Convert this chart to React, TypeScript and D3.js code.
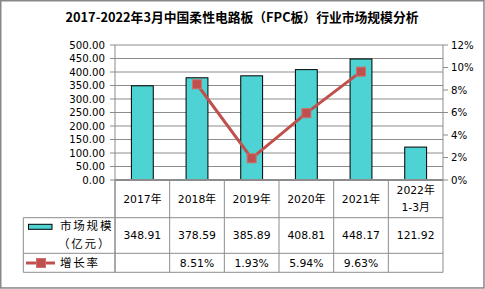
import React from "react";
import * as d3 from "d3";

const categories = ["2017年", "2018年", "2019年", "2020年", "2021年", "2022年\n1-3月"];
const marketSize = [348.91, 378.59, 385.89, 408.81, 448.17, 121.92];
const growthRate: (number | null)[] = [null, 8.51, 1.93, 5.94, 9.63, null];
const leftTicks = [0, 50, 100, 150, 200, 250, 300, 350, 400, 450, 500];
const rightTicks = [0, 2, 4, 6, 8, 10, 12];
const title = "2017-2022年3月中国柔性电路板（FPC板）行业市场规模分析";
const seriesNames = ["市场规模\n（亿元）", "增长率"];

const W = 485;
const H = 289;
const plotL = 115;
const plotR = 443;
const plotT = 45;
const plotB = 180;
const row1B = 217.7;
const row2B = 253.3;
const row3B = 272.3;
const tableL = 23.3;
const FONT = "'Noto Sans CJK SC', 'Noto Sans', sans-serif";
const NUMFONT = "'DejaVu Sans', 'Noto Sans CJK SC', sans-serif";
const NUMSIZE = 10.2;
const GRID = "#8c8c8c";
const BAR = "#4DD3D3";
const RED = "#C0504D";

export default function App() {
  const x = d3.scaleBand<string>().domain(categories).range([plotL, plotR]).paddingInner(0).paddingOuter(0);
  const yL = d3.scaleLinear().domain([0, 500]).range([plotB, plotT]);
  const yR = d3.scaleLinear().domain([0, 12]).range([plotB, plotT]);
  const bw = x.bandwidth() * 0.4;
  const line = d3
    .line<{ c: string; v: number | null }>()
    .defined((d) => d.v !== null)
    .x((d) => (x(d.c) as number) + x.bandwidth() / 2)
    .y((d) => yR(d.v as number));
  const pts = categories.map((c, i) => ({ c, v: growthRate[i] }));
  const colEdges = categories.map((c) => x(c) as number).concat([plotR]);

  return (
    <svg
      width={W}
      height={H}
      style={{ position: "absolute", left: 0, top: 0, background: "#fff" }}
      fontFamily={FONT}
    >
      <rect x={0.75} y={0.75} width={W - 1.8} height={H - 1.8} fill="#fff" stroke="#888" strokeWidth={1.5} />
      <text x={242} y={22} textAnchor="middle" fontSize={12.8} fontWeight="bold" fill="#000">
        {title}
      </text>
      {leftTicks.map((t) => (
        <line key={"g" + t} x1={plotL} x2={plotR} y1={yL(t)} y2={yL(t)} stroke={GRID} strokeWidth={1} />
      ))}
      {leftTicks.map((t) => (
        <g key={"lt" + t}>
          <line x1={plotL - 5} x2={plotL} y1={yL(t)} y2={yL(t)} stroke={GRID} />
          <text x={105} y={yL(t)} dy="0.36em" textAnchor="end" fontSize={NUMSIZE} fontFamily={NUMFONT} fill="#000">
            {d3.format(".2f")(t)}
          </text>
        </g>
      ))}
      {rightTicks.map((t) => (
        <g key={"rt" + t}>
          <line x1={plotR} x2={plotR + 5} y1={yR(t)} y2={yR(t)} stroke={GRID} />
          <text x={451} y={yR(t)} dy="0.36em" textAnchor="start" fontSize={NUMSIZE} fontFamily={NUMFONT} fill="#000">
            {t + "%"}
          </text>
        </g>
      ))}
      <line x1={plotL} x2={plotL} y1={plotT} y2={row3B} stroke={GRID} />
      <line x1={plotR} x2={plotR} y1={plotT} y2={plotB} stroke={GRID} />
      {categories.map((c, i) => (
        <rect
          key={"b" + c}
          x={(x(c) as number) + (x.bandwidth() - bw) / 2}
          y={yL(marketSize[i])}
          width={bw}
          height={plotB - yL(marketSize[i])}
          fill={BAR}
          stroke="#000"
          strokeWidth={1}
        />
      ))}
      <line x1={plotL} x2={plotR} y1={plotB} y2={plotB} stroke={GRID} strokeWidth={2} />
      <path d={line(pts) || ""} fill="none" stroke={RED} strokeWidth={3} />
      {pts
        .filter((p) => p.v !== null)
        .map((p) => (
          <rect
            key={"m" + p.c}
            x={(x(p.c) as number) + x.bandwidth() / 2 - 4.5}
            y={yR(p.v as number) - 4.5}
            width={9}
            height={9}
            fill={RED}
            stroke="#cf6e6b"
            strokeWidth={1}
          />
        ))}
      <g stroke={GRID} strokeWidth={1} fill="none">
        <line x1={tableL} x2={plotR} y1={row1B} y2={row1B} />
        <line x1={tableL} x2={plotR} y1={row2B} y2={row2B} />
        <line x1={tableL} x2={plotR} y1={row3B} y2={row3B} />
        <line x1={tableL} x2={tableL} y1={row1B} y2={row3B} />
        {colEdges.map((e, i) => (
          <line key={"c" + i} x1={e} x2={e} y1={plotB} y2={row3B} />
        ))}
      </g>
      {categories.map((c, i) => {
        const cx = (x(c) as number) + x.bandwidth() / 2;
        const lines = c.split("\n");
        return (
          <g key={"t" + c} fontSize={NUMSIZE + 0.6} fontFamily={NUMFONT} fill="#000" textAnchor="middle">
            {lines.length === 1 ? (
              <text x={cx} y={199} dy="0.36em">
                {c}
              </text>
            ) : (
              lines.map((l, j) => (
                <text key={j} x={cx} y={190.5 + j * 16.5} dy="0.36em">
                  {l}
                </text>
              ))
            )}
            <text x={cx} y={235.5} dy="0.36em">
              {d3.format(".2f")(marketSize[i])}
            </text>
            {growthRate[i] !== null && (
              <text x={cx} y={263.3} dy="0.36em">
                {d3.format(".2f")(growthRate[i] as number) + "%"}
              </text>
            )}
          </g>
        );
      })}
      <rect x={28.5} y={224.3} width={23.5} height={5} fill={BAR} stroke="#000" strokeWidth={1} />
      <text x={60} y={226.3} dy="0.36em" fontSize={11.5} fill="#000" letterSpacing={1.8}>
        {seriesNames[0].split("\n")[0]}
      </text>
      <text x={58} y={243.5} dy="0.36em" fontSize={11.5} fill="#000" letterSpacing={1.8}>
        {seriesNames[0].split("\n")[1]}
      </text>
      <line x1={26} x2={55} y1={263} y2={263} stroke={RED} strokeWidth={3} />
      <rect x={36.5} y={258.5} width={9} height={9} fill={RED} stroke="#cf6e6b" strokeWidth={1} />
      <text x={60} y={263} dy="0.36em" fontSize={11.5} fill="#000" letterSpacing={1.8}>
        {seriesNames[1]}
      </text>
    </svg>
  );
}
